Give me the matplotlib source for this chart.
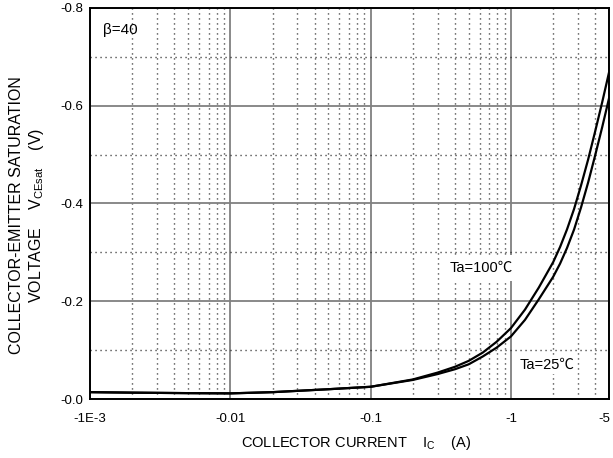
import matplotlib
matplotlib.use("Agg")
import matplotlib.pyplot as plt
import matplotlib.transforms as mtransforms
from matplotlib.ticker import FixedLocator, LogLocator, MultipleLocator, NullFormatter

plt.rcParams['font.family'] = ['Liberation Sans', 'Noto Sans CJK JP', 'DejaVu Sans']

# collector current (A, magnitude) and VCE(sat) (V, magnitude)
ic_100 = [0.001, 0.002, 0.005, 0.01, 0.02, 0.05, 0.1, 0.2, 0.3, 0.4,
          0.5, 0.63, 0.79, 1.0, 1.26, 1.58, 2.0, 2.24, 2.51, 2.82, 3.16, 3.55, 3.98, 4.47, 5.0]
vce_100 = [0.014, 0.013, 0.012, 0.0115, 0.014, 0.020, 0.025, 0.040, 0.054, 0.066,
           0.078, 0.095, 0.117, 0.145, 0.183, 0.228, 0.280, 0.311, 0.347, 0.389, 0.437, 0.490, 0.547, 0.607, 0.668]

ic_25 = [0.001, 0.002, 0.005, 0.01, 0.02, 0.05, 0.1, 0.2, 0.3, 0.4,
         0.5, 0.63, 0.79, 1.0, 1.26, 1.58, 2.0, 2.24, 2.51, 2.82, 3.16, 3.55, 3.98, 4.47, 5.0]
vce_25 = [0.014, 0.013, 0.012, 0.0115, 0.014, 0.020, 0.025, 0.039, 0.051, 0.061,
          0.071, 0.087, 0.105, 0.128, 0.162, 0.204, 0.250, 0.277, 0.309, 0.347, 0.392, 0.443, 0.498, 0.556, 0.615]

x_ticks = [0.001, 0.01, 0.1, 1, 5]
x_labels = ['-1E-3', '-0.01', '-0.1', '-1', '-5']
y_ticks = [0.0, 0.2, 0.4, 0.6, 0.8]
y_labels = ['-0.0', '-0.2', '-0.4', '-0.6', '-0.8']

fig = plt.figure(figsize=(6.13, 4.58), dpi=100)
ax = fig.add_axes([90/613, 1-399/458, 519/613, 391/458])

ax.plot(ic_100, vce_100, color='black', lw=1.6)
ax.plot(ic_25, vce_25, color='black', lw=1.6)

ax.set_xscale('log')
ax.set_xlim(0.001, 5)
ax.set_ylim(0, 0.8)

ax.xaxis.set_major_locator(FixedLocator(x_ticks))
ax.set_xticklabels(x_labels)
ax.xaxis.set_minor_locator(LogLocator(base=10, subs=range(2, 10)))
ax.xaxis.set_minor_formatter(NullFormatter())
ax.set_yticks(y_ticks)
ax.set_yticklabels(y_labels)
ax.yaxis.set_minor_locator(MultipleLocator(0.1))

ax.tick_params(which='both', length=0)
ax.tick_params(axis='x', labelsize=9.5, pad=10)
ax.tick_params(axis='y', labelsize=9.5, pad=5)

# last x label sits at the figure edge, nudge it in a bit
last = ax.get_xticklabels()[-1]
last.set_transform(last.get_transform() + mtransforms.ScaledTranslation(-5/100, 0, fig.dpi_scale_trans))

ax.grid(which='major', color='#808080', lw=1.3, ls='-')
ax.grid(which='minor', color='#222222', lw=1.0, ls=(0, (0.8, 2.8)))

for s in ax.spines.values():
    s.set_linewidth(1.4)
    s.set_zorder(5)

ax.text(0.00124, 0.755, 'β=40', fontsize=11, ha='left', va='center')
ax.text(1.03, 0.268, 'Ta=100℃', fontsize=10.5, ha='right', va='center', zorder=3,
        bbox=dict(facecolor='white', edgecolor='none', pad=4))
ax.text(1.16, 0.07, 'Ta=25℃', fontsize=10.5, ha='left', va='center', zorder=3,
        bbox=dict(facecolor='white', edgecolor='none', pad=1.5))

fig.text(356/613, 1-443/458, 'COLLECTOR CURRENT    $\\mathregular{I_C}$    (A)',
         fontsize=10.5, ha='center', va='center')
fig.text(27.5/613, 1-215/458,
         'COLLECTOR-EMITTER SATURATION\nVOLTAGE    $\\mathregular{V_{CEsat}}$    (V)',
         fontsize=11.5, ha='center', va='center', rotation=90, multialignment='center',
         linespacing=1.15)

fig.savefig('out.png', dpi=100)
